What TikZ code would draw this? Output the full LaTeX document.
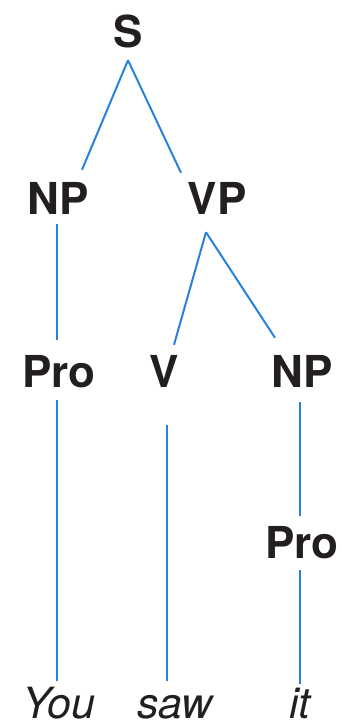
\documentclass[tikz,border=0pt]{standalone}
\usepackage{fontspec}
\setmainfont{TeX Gyre Heros}
\usepackage{xcolor}
\definecolor{treeblue}{RGB}{40,130,220}
\definecolor{treeink}{RGB}{35,31,32}
\tikzset{
  cat/.style={inner sep=0pt, text height=32pt, text depth=0pt, text=treeink,
    font=\fontsize{44}{44}\selectfont\bfseries},
  word/.style={inner sep=0pt, text height=30pt, text depth=0pt, anchor=base, text=treeink,
    font=\fontsize{43}{43}\selectfont\itshape},
  branch/.style={draw=treeblue, line width=2pt}
}

\begin{document}
\begin{tikzpicture}[x=1pt,y=-1pt]
  \useasboundingbox (0,0) rectangle (341,728);
  \node[cat] (s) at (128,31) {S};
  \node[cat] (np) at (58,198) {NP};
  \node[cat] (vp) at (217,198) {VP};
  \node[cat] (pro) at (59,371) {Pro};
  \node[cat] (v) at (164,371) {V};
  \node[cat] (npb) at (302,371) {NP};
  \node[cat] (prob) at (302,542) {Pro};
  \node[word] (you) at (59,718) {You};
  \node[word] (saw) at (175,718) {saw};
  \node[word] (it) at (300,718) {it};

  \path[branch]
    ([yshift=-13pt]s.south) edge ([xshift=24pt,yshift=12pt]np.north)
    ([yshift=-13pt]s.south) edge ([xshift=-36pt,yshift=9pt]vp.north)
    ([xshift=-1pt,yshift=-10pt]np.south) edge ([xshift=-2pt,yshift=15pt]pro.north)
    ([xshift=-11pt,yshift=-18pt]vp.south) edge ([xshift=10pt,yshift=10pt]v.north)
    ([xshift=-11pt,yshift=-18pt]vp.south) edge ([xshift=-27pt,yshift=17pt]npb.north);

  \path[branch]
    ([xshift=-2pt,yshift=-13pt]pro.south) edge ([xshift=-2pt,yshift=7pt]you.north)
    ([xshift=3pt,yshift=-38pt]v.south) edge ([xshift=-8pt,yshift=7pt]saw.north)
    ([xshift=-2pt,yshift=-15pt]npb.south) edge ([xshift=-2pt,yshift=10pt]prob.north)
    ([xshift=-2pt,yshift=-12pt]prob.south) edge ([yshift=4pt]it.north);
\end{tikzpicture}
\end{document}
